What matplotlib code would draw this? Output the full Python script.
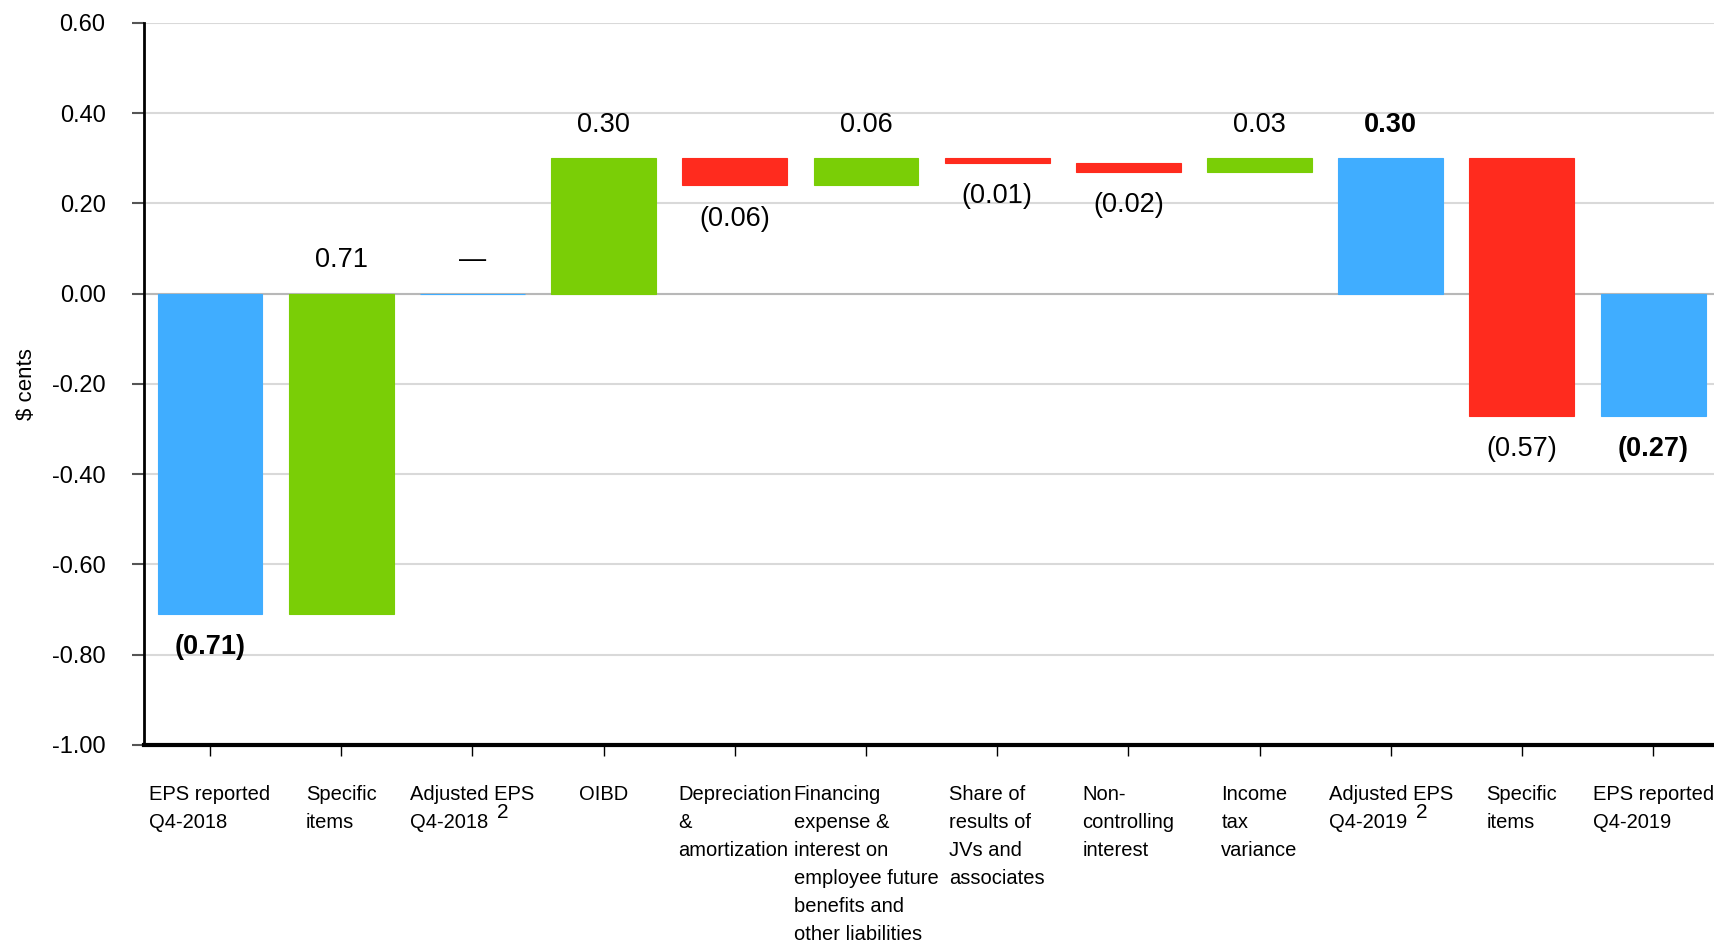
import numpy as np
import matplotlib
matplotlib.use("Agg")
import matplotlib.pyplot as plt

OUTPUT_PATH = "out.png"

categories = [
    "EPS reported\nQ4-2018",
    "Specific\nitems",
    "Adjusted EPS\nQ4-2018",
    "OIBD",
    "Depreciation\n&\namortization",
    "Financing\nexpense &\ninterest on\nemployee future\nbenefits and\nother liabilities",
    "Share of\nresults of\nJVs and\nassociates",
    "Non-\ncontrolling\ninterest",
    "Income\ntax\nvariance",
    "Adjusted EPS\nQ4-2019",
    "Specific\nitems",
    "EPS reported\nQ4-2019",
]
# change for each step; totals are the running level itself
values = [-0.71, 0.71, 0.00, 0.30, -0.06, 0.06, -0.01, -0.02, 0.03, 0.30, -0.57, -0.27]
is_total = [True, False, True, False, False, False, False, False, False, True, False, True]
bold_label = [True, False, False, False, False, False, False, False, False, True, False, True]
footnote_at = [2, 9]

yticks = [0.60, 0.40, 0.20, 0.00, -0.20, -0.40, -0.60, -0.80, -1.00]

BLUE = "#40adff"
GREEN = "#7ace06"
RED = "#ff2b1e"

FONT = ["Liberation Sans Narrow", "Liberation Sans", "DejaVu Sans"]


def fmt(v):
    if abs(v) < 1e-9:
        return "\u2014"
    if v < 0:
        return f"({abs(v):.2f})"
    return f"{v:.2f}"


def main():
    plt.rcParams["font.family"] = FONT

    fig = plt.figure(figsize=(17.15, 9.46), dpi=100)
    ax = fig.add_axes([0.0842, 0.2125, 0.918, 0.7632])

    # waterfall levels
    bottoms, heights, colors = [], [], []
    level = 0.0
    for v, tot in zip(values, is_total):
        if tot:
            bottoms.append(0.0)
            heights.append(v)
            colors.append(BLUE)
            level = v
        else:
            bottoms.append(level)
            heights.append(v)
            colors.append(GREEN if v > 0 else RED)
            level = level + v

    x = np.arange(len(categories))
    ax.bar(x, heights, bottom=bottoms, width=0.8, color=colors,
           edgecolor=colors, linewidth=0.8, zorder=3)

    for i in range(len(values)):
        top = max(bottoms[i], bottoms[i] + heights[i])
        low = min(bottoms[i], bottoms[i] + heights[i])
        if values[i] >= 0:
            y, dy = top, 24
        else:
            y, dy = low, -24
        ax.annotate(fmt(values[i]), xy=(x[i], y), xytext=(0, dy),
                    textcoords="offset points", ha="center", va="center",
                    fontsize=19.5, fontweight="bold" if bold_label[i] else "normal",
                    zorder=4)

    ax.set_xlim(-0.5, 11.5)
    ax.set_ylim(-1.0, 0.6)
    ax.set_yticks(yticks)
    ax.set_yticklabels([f"{t:.2f}" for t in yticks])
    ax.set_xticks(x)
    ax.set_xticklabels(categories, fontsize=14.5, linespacing=1.6,
                       multialignment="left")

    for i in footnote_at:
        ax.annotate("2", xy=(x[i], 0), xycoords=("data", "axes fraction"),
                    xytext=(22, -48.5), textcoords="offset points",
                    ha="center", va="center", fontsize=15)

    ax.grid(axis="y", color="#d9d9d9", linewidth=1.5, zorder=0)
    ax.axhline(0, color="#b8b8b8", linewidth=1.5, zorder=1)
    ax.set_axisbelow(True)

    for s in ["top", "right"]:
        ax.spines[s].set_visible(False)
    ax.spines["left"].set_linewidth(2)
    ax.spines["bottom"].set_linewidth(3)

    ax.tick_params(axis="y", labelsize=17, length=9, width=1.5,
                   color="#555555", pad=19)
    ax.tick_params(axis="x", length=8, width=1, pad=20.5)

    ax.set_ylabel("$ cents", fontsize=16)
    ax.yaxis.set_label_coords(-0.068, 0.5)

    fig.savefig(OUTPUT_PATH, dpi=100)
    plt.close(fig)


if __name__ == "__main__":
    main()
